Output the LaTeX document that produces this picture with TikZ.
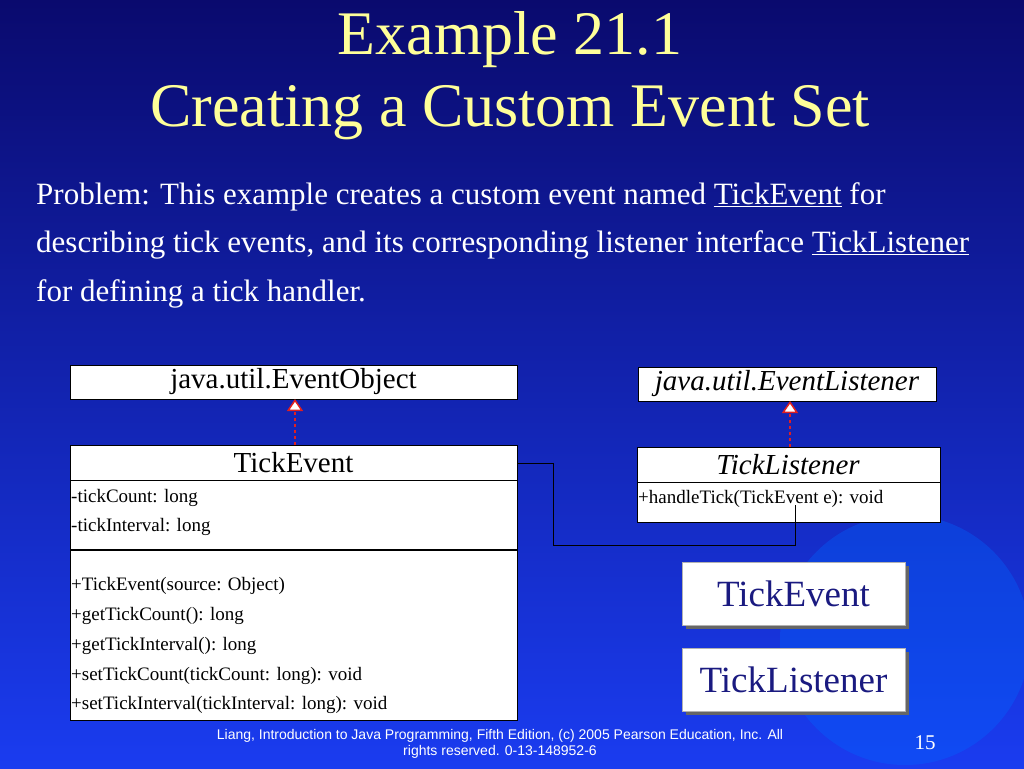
\documentclass[tikz,border=0pt]{standalone}
\usepackage{fontspec}
\setmainfont{Liberation Serif}
\newfontfamily\footfont{Liberation Sans}
\usetikzlibrary{arrows.meta}
\definecolor{topblue}{HTML}{0A0A6E}
\definecolor{botblue}{HTML}{1A3CF0}
\definecolor{ttl}{HTML}{FFFF99}
\definecolor{btn}{HTML}{1A1A80}
\definecolor{arr}{HTML}{E02020}
\begin{document}
\begin{tikzpicture}[x=1pt,y=-1pt,
  box/.style={draw=black,fill=white,line width=0.8pt},
  lbl/.style={anchor=west,inner sep=1pt,font=\fontsize{19}{21}\selectfont},
  btnbox/.style={fill=white,draw=gray!60,minimum width=223pt,minimum height=63pt,font=\fontsize{37}{40}\selectfont,text=btn},
  inh/.style={draw=arr,dashed,line width=1.5pt,-{Triangle[open,fill=white,length=12pt,width=16pt]}}]
\useasboundingbox (0,0) rectangle (1024,768);
\shade[top color=topblue,bottom color=botblue] (0,0) rectangle (1024,768);
\fill[blue!60!cyan,opacity=0.35] (905,640) circle (125pt);
% title
\node[text=ttl,font=\fontsize{62}{66}\selectfont] (t1) at (510,40) {Example 21.1};
\node[text=ttl,font=\fontsize{62}{66}\selectfont] (t2) at (510,113) {Creating a Custom Event Set};
\begin{scope}[every node/.style={anchor=west,text=white,font=\fontsize{31}{34}\selectfont,inner sep=0pt}]
\node (p1) at (36,197) {Problem: This example creates a custom event named \underline{TickEvent} for};
\node (p2) at (36,245) {describing tick events, and its corresponding listener interface \underline{TickListener}};
\node (p3) at (36,294) {for defining a tick handler.};
\end{scope}
% boxes
\draw[box] (70,365) rectangle (517,399);
\node[font=\fontsize{29}{32}\selectfont] (eo) at (293.5,382) {java.util.EventObject};
\draw[box] (638,367) rectangle (936,401);
\node[font=\itshape\fontsize{29}{32}\selectfont] (el) at (787,384) {java.util.EventListener};
\draw[box] (70,445) rectangle (517,720);
\draw[line width=0.8pt] (70,480) -- (517,480);
\draw[line width=1.2pt] (70,550) -- (517,550);
\node[font=\fontsize{29}{32}\selectfont] (te) at (293.5,463) {TickEvent};
\node[lbl] at (70,498) {-tickCount: long};
\node[lbl] at (70,527) {-tickInterval: long};
\node[lbl] at (70,586) {+TickEvent(source: Object)};
\node[lbl] at (70,616) {+getTickCount(): long};
\node[lbl] at (70,646) {+getTickInterval(): long};
\node[lbl] at (70,676) {+setTickCount(tickCount: long): void};
\node[lbl] at (70,705) {+setTickInterval(tickInterval: long): void};
\draw[box] (637,447) rectangle (940,522);
\draw[line width=0.8pt] (637,482) -- (940,482);
\node[font=\itshape\fontsize{29}{32}\selectfont] (tl) at (788,465) {TickListener};
\node[lbl] (ht) at (637,499) {+handleTick(TickEvent e): void};
\coordinate (a1) at (295,445); \coordinate (b1) at (295,399);
\coordinate (a2) at (790,447); \coordinate (b2) at (790,401);
\draw[inh] (a1) -- (b1);
\draw[inh] (a2) -- (b2);
\coordinate (c0) at (517,463); \coordinate (c1) at (795,505);
\draw[line width=1pt] (c0) -- (553,463) -- (553,545) -- (795,545) -- (c1);
% buttons
\fill[black!60] (686,566) rectangle (909,629);
\node[btnbox] (bt1) at (793.5,593.5) {TickEvent};
\fill[black!60] (686,652) rectangle (909,715);
\node[btnbox] (bt2) at (793.5,679.5) {TickListener};
% footer
\node[text=white,font=\footfont\fontsize{14}{16}\selectfont,align=center] (ft) at (500,744) {Liang, Introduction to Java Programming, Fifth Edition, (c) 2005 Pearson Education, Inc. All\\rights reserved. 0-13-148952-6};
\node[text=white,font=\fontsize{21}{22}\selectfont] (pg) at (925,743) {15};
\end{tikzpicture}
\end{document}
